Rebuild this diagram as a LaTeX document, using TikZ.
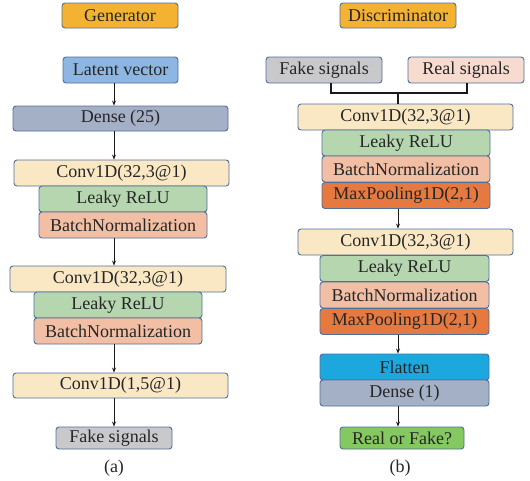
\documentclass[tikz,border=0pt]{standalone}
\usepackage{fontspec}
\setmainfont{Liberation Serif}
\usetikzlibrary{arrows.meta}
\definecolor{bordc}{HTML}{4F6F9C}
\definecolor{txtc}{HTML}{262626}
\definecolor{cgold}{HTML}{F4B233}
\definecolor{clatent}{HTML}{8EB6E2}
\definecolor{cdense}{HTML}{A4B0C5}
\definecolor{cconv}{HTML}{FAE8C4}
\definecolor{crelu}{HTML}{B6D6AF}
\definecolor{cbn}{HTML}{F3BFA4}
\definecolor{cmp}{HTML}{E5793F}
\definecolor{cflat}{HTML}{1CA7DE}
\definecolor{cgray}{HTML}{C9C9CB}
\definecolor{creal}{HTML}{F7DBCF}
\definecolor{cgreen}{HTML}{84C85F}
\tikzset{
  box/.style={draw=bordc, line width=0.9pt, rounded corners=3pt, inner sep=0pt,
    text=txtc, font=\fontsize{18}{21}\selectfont, align=center},
  wide/.style={box, minimum width=215pt, minimum height=26pt},
  mid/.style={box, minimum width=168pt, minimum height=26pt},
  small/.style={box, minimum width=116pt, minimum height=26pt},
  flow/.style={draw=black!90, line width=0.9pt, -{Stealth[length=5pt,width=4pt]}},
  brk/.style={draw=black!90, line width=1.3pt},
  captxt/.style={inner sep=0pt, text=txtc, font=\fontsize{18}{21}\selectfont}
}
\begin{document}
\begin{tikzpicture}[x=1pt,y=-1pt]
\useasboundingbox (0,0) rectangle (530,480);
% ---------- Generator ----------
\node[small, fill=cgold, minimum height=25pt] (gen) at (120,15.5) {Generator};
\node[small, fill=clatent, minimum width=115pt] (lat) at (120.5,70) {Latent vector};
\node[wide, fill=cdense, minimum height=25pt] (gd) at (120.5,118.5) {Dense (25)};
\node[wide, fill=cconv] (gc1) at (121.5,173) {Conv1D(32,3@1)};
\node[mid, fill=crelu] (gr1) at (123,199) {Leaky ReLU};
\node[mid, fill=cbn] (gb1) at (123,225) {BatchNormalization};
\node[wide, fill=cconv, minimum width=216pt] (gc2) at (118,279) {Conv1D(32,3@1)};
\node[mid, fill=crelu] (gr2) at (118,305) {Leaky ReLU};
\node[mid, fill=cbn] (gb2) at (118,331) {BatchNormalization};
\node[wide, fill=cconv, minimum height=25pt] (gc3) at (120.5,385.5) {Conv1D(1,5@1)};
\node[small, fill=cgray, minimum height=22pt] (gout) at (114,438) {Fake signals};
\node[captxt] (capa) at (114,468) {(a)};
\coordinate (ga) at (114,0);
\draw[flow] (lat.south -| ga) -- (gd.north -| ga);
\draw[flow] (gd.south -| ga) -- (gc1.north -| ga);
\draw[flow] (gb1.south -| ga) -- (gc2.north -| ga);
\draw[flow] (gb2.south -| ga) -- (gc3.north -| ga);
\draw[flow] (gc3.south -| ga) -- (gout.north -| ga);
% ---------- Discriminator ----------
\node[small, fill=cgold, minimum height=25pt] (dis) at (398,15.5) {Discriminator};
\node[small, fill=cgray] (fk) at (324,70) {Fake signals};
\node[small, fill=creal] (rl) at (466,70) {Real signals};
\node[wide, fill=cconv] (dc1) at (405.5,117) {Conv1D(32,3@1)};
\node[mid, fill=crelu] (dr1) at (406,143) {Leaky ReLU};
\node[mid, fill=cbn] (db1) at (406,169) {BatchNormalization};
\node[mid, fill=cmp] (dm1) at (406,195.5) {MaxPooling1D(2,1)};
\node[wide, fill=cconv] (dc2) at (405.5,242) {Conv1D(32,3@1)};
\node[mid, fill=crelu, minimum width=169pt] (dr2) at (404.5,268.5) {Leaky ReLU};
\node[mid, fill=cbn, minimum width=169pt] (db2) at (404.5,295) {BatchNormalization};
\node[mid, fill=cmp, minimum width=169pt] (dm2) at (404.5,321.5) {MaxPooling1D(2,1)};
\node[mid, fill=cflat, minimum width=169pt] (df) at (404.5,367) {Flatten};
\node[mid, fill=cdense, minimum width=169pt] (dd) at (404.5,393) {Dense (1)};
\node[small, fill=cgreen, minimum width=124pt, minimum height=22pt] (dout) at (402,438) {Real or Fake?};
\node[captxt] (capb) at (400,468) {(b)};
\coordinate (da) at (398,0);
\coordinate (fkx) at (331,0);
\coordinate (rlx) at (467,0);
\coordinate (bry) at (0,93);
\draw[brk] (fk.south -| fkx) -- (fkx |- bry) -- (rlx |- bry) -- (rl.south -| rlx);
\draw[brk] (da |- bry) -- (dc1.north -| da);
\draw[flow] (dm1.south -| da) -- (dc2.north -| da);
\draw[flow] (dm2.south -| da) -- (df.north -| da);
\draw[flow] (dd.south -| da) -- (dout.north -| da);
\end{tikzpicture}
\end{document}
